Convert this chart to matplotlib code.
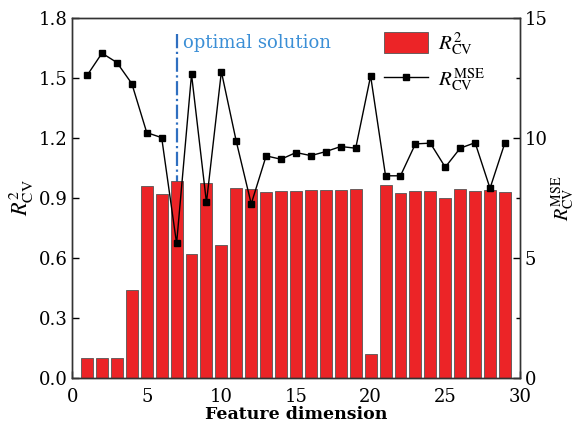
import matplotlib
matplotlib.use("Agg")
import matplotlib.pyplot as plt
from matplotlib.ticker import MultipleLocator

plt.rcParams["font.family"] = ["DejaVu Serif"]
plt.rcParams["mathtext.fontset"] = "stix"

# feature dimension 1..29
dims = list(range(1, 30))
r2_cv = [0.10, 0.10, 0.10, 0.44, 0.957, 0.918, 0.985, 0.618, 0.975, 0.665,
         0.948, 0.945, 0.928, 0.935, 0.935, 0.94, 0.94, 0.937, 0.945, 0.12,
         0.963, 0.922, 0.933, 0.933, 0.898, 0.945, 0.933, 0.94, 0.93]
rmse_cv = [12.6, 13.53, 13.14, 12.26, 10.22, 10.01, 5.6, 12.65, 7.31, 12.76,
           9.85, 7.25, 9.25, 9.11, 9.39, 9.26, 9.43, 9.64, 9.57, 12.58,
           8.42, 8.42, 9.75, 9.78, 8.78, 9.57, 9.8, 7.9, 9.8]
optimal_dim = 7

fig = plt.figure(figsize=(5.77, 4.26), dpi=100)
ax = fig.add_axes([0.125, 0.113, 0.776, 0.845])
ax2 = ax.twinx()

bars = ax.bar(dims, r2_cv, width=0.8, color="#ec2427", edgecolor="#555555",
              linewidth=0.6, zorder=2, label=r"$R^2_{\mathrm{CV}}$")
ax.plot([optimal_dim, optimal_dim], [0, 1.72], color="#2f6fc0", lw=1.6,
        linestyle="-.", zorder=1)
ax.text(optimal_dim + 0.45, 1.675, "optimal solution", color="#3b8fd6",
        fontsize=13, va="center", ha="left")

line, = ax2.plot(dims, rmse_cv, color="black", lw=1.0, marker="s",
                 markersize=4.5, label=r"$R^{\mathrm{MSE}}_{\mathrm{CV}}$")

ax.set_xlim(0, 30)
ax.set_ylim(0, 1.8)
ax2.set_ylim(0, 15)
ax.xaxis.set_major_locator(MultipleLocator(5))
ax.yaxis.set_major_locator(MultipleLocator(0.3))
ax2.yaxis.set_major_locator(MultipleLocator(5))
ax2.yaxis.set_minor_locator(MultipleLocator(2.5))

ax.tick_params(axis="both", direction="in", labelsize=13, length=5, width=1)
ax.tick_params(axis="x", pad=7)
ax2.tick_params(axis="y", which="both", direction="in", labelsize=13, width=1)
ax2.tick_params(axis="y", which="major", length=5)
ax2.tick_params(axis="y", which="minor", length=3)

for a in (ax, ax2):
    for s in a.spines.values():
        s.set_linewidth(1.0)
        s.set_color("#333333")

ax.set_xlabel("Feature dimension", fontsize=12.5, fontweight="bold", labelpad=0)
ax.set_ylabel(r"$R^2_{\mathrm{CV}}$", fontsize=16, labelpad=2)
ax2.set_ylabel(r"$R^{\mathrm{MSE}}_{\mathrm{CV}}$", fontsize=14.5, rotation=90,
               labelpad=1)

ax.set_zorder(ax2.get_zorder() - 1)
ax2.patch.set_visible(False)

ax2.legend([bars, line], [bars.get_label(), line.get_label()],
           loc="upper right", bbox_to_anchor=(0.95, 1.0), frameon=False,
           fontsize=15, handlelength=2.1, handleheight=1.2, handletextpad=0.5,
           borderaxespad=0.2, labelspacing=0.45)

fig.savefig("out.png", dpi=100)
